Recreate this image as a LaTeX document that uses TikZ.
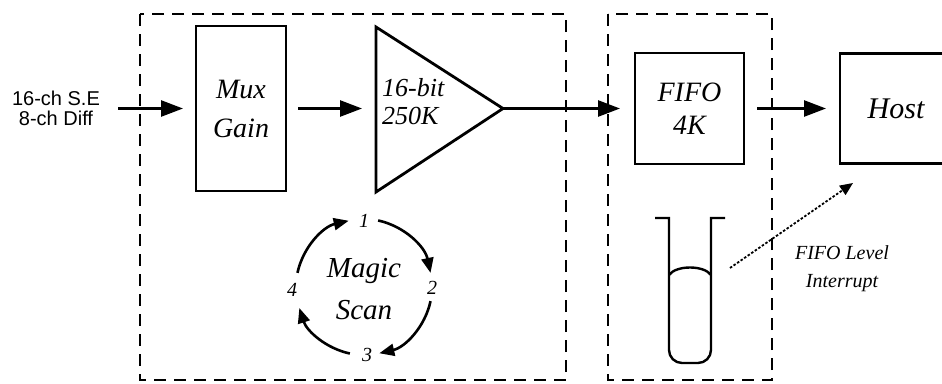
\documentclass[tikz,border=0pt]{standalone}
\usepackage{fontspec}
\newfontfamily\labelsans{Liberation Sans}
\newfontfamily\scr{Liberation Serif}
\usetikzlibrary{arrows.meta,calc}
\begin{document}
\begin{tikzpicture}[x=1pt,y=-1pt,
  blk/.style={draw, line width=2.8pt, inner sep=0pt, outer sep=0pt, align=center},
  grp/.style={draw, line width=1.8pt, dash pattern=on 12pt off 8pt},
  flow/.style={line width=2.6pt, -{Triangle[length=22pt,width=16pt]}},
  cyc/.style={line width=2.6pt, -{Triangle[length=15pt,width=12pt]}},
  num/.style={font=\scr\itshape\fontsize{20}{22}\selectfont, inner sep=1pt},
]
\useasboundingbox (0,0) rectangle (942,383);
\fill[white] (0,0) rectangle (942,383);
% groups
\draw[grp] (140,14) rectangle (566,380);
\draw[grp] (608,14) rectangle (772,380);
% source label
\node[font=\labelsans\fontsize{20}{20}\selectfont, align=center] (src) at (56,108.5) {16-ch S.E\\8-ch Diff};
\coordinate (in) at (118,108.5);
% mux
\node[blk, font=\scr\itshape\fontsize{28}{39}\selectfont, minimum width=90pt, minimum height=165pt] (mux) at (241,108.5) {Mux\\Gain};
% amplifier / ADC triangle
\draw[line width=2.8pt, line join=miter] (376,27) -- (503,108.5) -- (376,192) -- cycle;
\coordinate (ampin) at (376,108.5);
\coordinate (ampout) at (503,108.5);
\node[font=\scr\itshape\fontsize{26}{28}\selectfont, align=left, anchor=west, inner sep=0pt] (amp) at (382,102) {16-bit\\250K};
% fifo
\node[blk, font=\scr\itshape\fontsize{28}{33}\selectfont, minimum width=109pt, minimum height=111pt] (fifo) at (689.5,108.5) {FIFO\\4K};
% host
\node[blk, font=\scr\itshape\fontsize{30}{32}\selectfont, minimum width=112pt, minimum height=110pt] (host) at (896,108.5) {Host};
% flow arrows
\draw[flow, shorten >=13pt] (in) -- (mux.west);
\draw[flow, shorten <=12pt, shorten >=14pt] (mux.east) -- (ampin);
\draw[flow, shorten >=15pt] (ampout) -- (fifo.west);
\draw[flow, shorten <=13pt, shorten >=14pt] (fifo.east) -- (host.west);
% magic scan cycle
\coordinate (c) at (364,287);
\node[font=\scr\itshape\fontsize{29}{42}\selectfont, align=center] (ms) at (364,289) {Magic\\Scan};
\node[num] (n1) at (364,221) {1};
\node[num] (n2) at (432,288) {2};
\node[num] (n3) at (367,355) {3};
\node[num] (n4) at (292,290) {4};
\draw[cyc] ($(c)+(-78:68)$) arc[start angle=-78, end angle=-12, radius=68];
\draw[cyc] ($(c)+(12:68)$) arc[start angle=12, end angle=77, radius=68];
\draw[cyc] ($(c)+(102:68)$) arc[start angle=102, end angle=162, radius=68];
\draw[cyc] ($(c)+(-168:68)$) arc[start angle=-168, end angle=-103, radius=68];
% test tube
\draw[line width=2.4pt] (655,218) -- (669,218) [rounded corners=13pt] -- (669,363) -- (711,363) [sharp corners] -- (711,218) -- (725,218);
\draw[line width=2.4pt] (669,275) .. controls (676,265) and (704,265) .. (711,275);
% interrupt
\coordinate (lvl) at (730,268);
\coordinate (hostin) at (853,183);
\draw[line width=1.8pt, dash pattern=on 2.5pt off 1.8pt, -{Triangle[length=13pt,width=11pt]}] (lvl) -- (hostin);
\node[font=\scr\itshape\fontsize{20}{28}\selectfont, align=center] (irq) at (842,269) {FIFO Level\\Interrupt};
\end{tikzpicture}
\end{document}
